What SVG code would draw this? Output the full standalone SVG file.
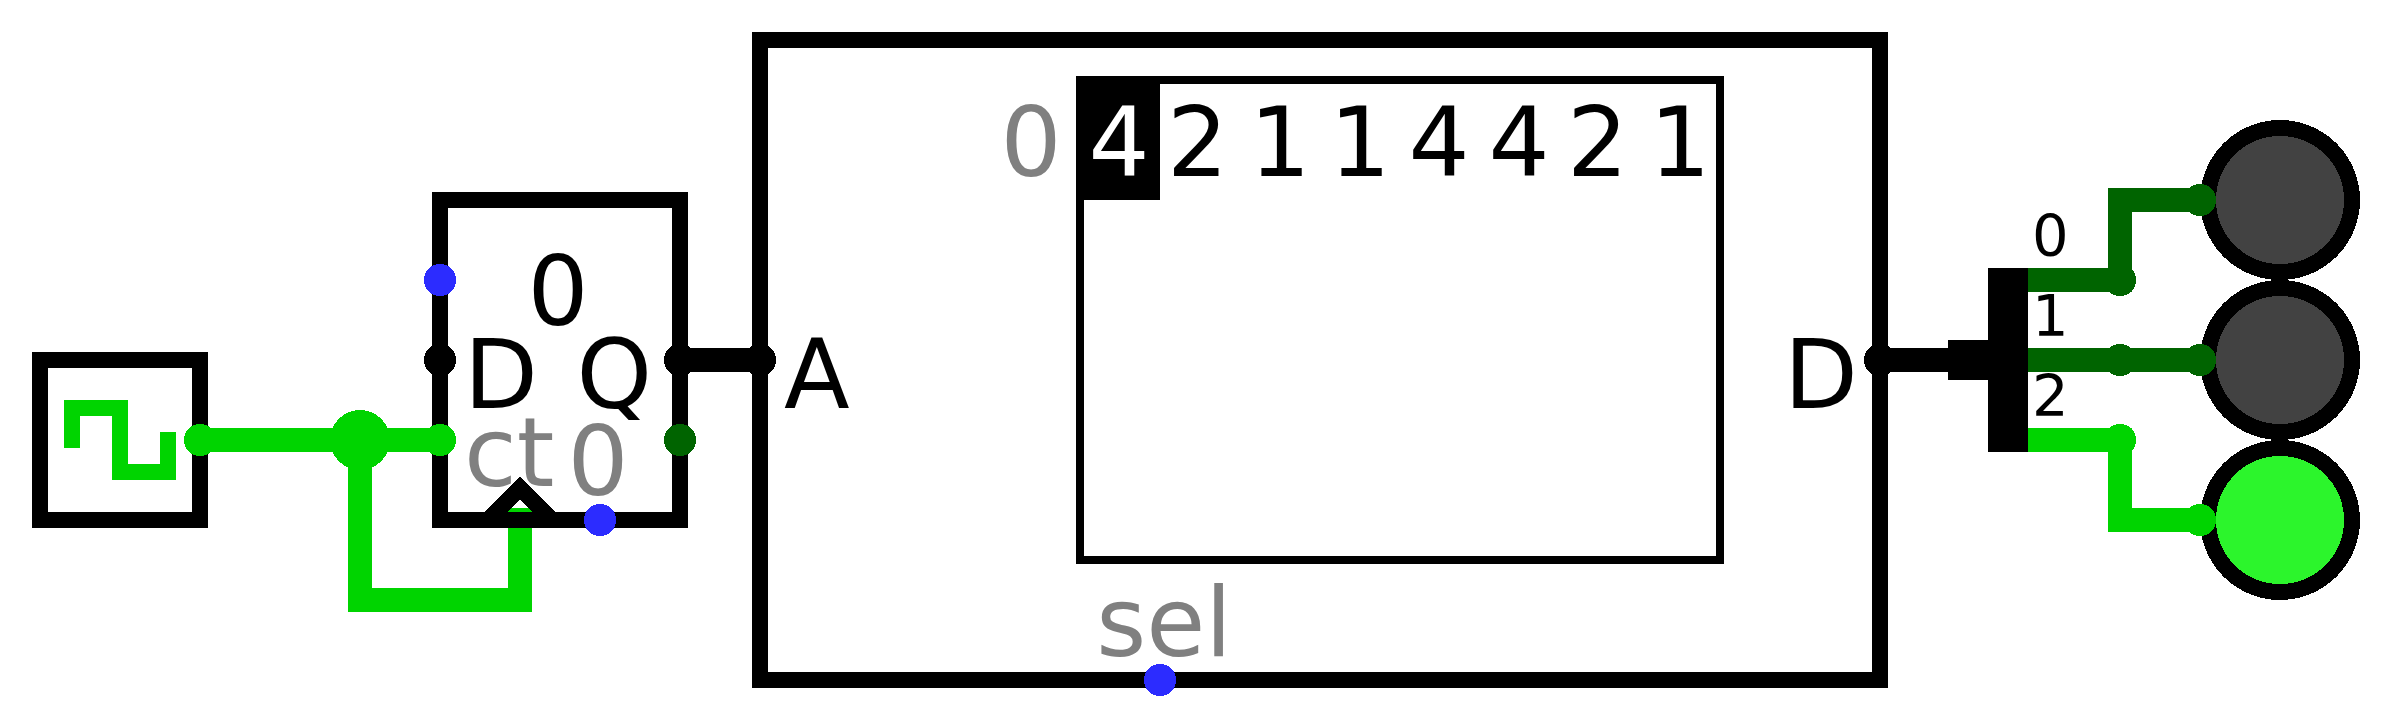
<svg xmlns="http://www.w3.org/2000/svg" width="2400" height="720" viewBox="0 0 2400 720">
<style>
text{font-family:"DejaVu Sans",sans-serif;font-size:96px;fill:#000}
.g{fill:#808080}
.s{font-size:57.6px}
.box{fill:none;stroke:#000;stroke-width:16}
.w{fill:none;stroke-width:24;stroke-linecap:butt}
.hi{stroke:#00d400}.lo{stroke:#006400}.bk{stroke:#000}
.pb{fill:#2c2cff}.pk{fill:#000}.ph{fill:#00d400}.pl{fill:#006400}
.led{stroke:#000;stroke-width:16}
circle,rect,path,polyline{shape-rendering:crispEdges}
</style>
<g id="connectors">
<path class="w hi" d="M200 440H440"/>
<path class="w hi" d="M360 440V600H520V508"/>
<path class="w bk" d="M680 360H760"/>
<path class="w bk" d="M1880 360H1960"/>
<path class="w lo" d="M2028 280H2120V200H2200"/>
<path class="w lo" d="M2028 360H2200"/>
<path class="w hi" d="M2028 440H2120V520H2200"/>
<circle class="ph" cx="360" cy="440" r="30"/>
</g>
<g id="clock">
<rect class="box" x="40" y="360" width="160" height="160"/>
<polyline points="72,448 72,408 120,408 120,472 168,472 168,432" fill="none" stroke="#00d400" stroke-width="16"/>
<circle class="ph" cx="200" cy="440" r="16"/>
</g>
<g id="dff">
<rect class="box" x="440" y="200" width="240" height="320"/>
<polyline points="488,520 520,488 552,520" fill="none" stroke="#000" stroke-width="16"/>
<text x="558" y="325" text-anchor="middle">0</text>
<text x="464" y="408">D</text>
<text x="652" y="408" text-anchor="end">Q</text>
<text class="g" x="464" y="486">ct</text>
<text class="g" x="598" y="495" text-anchor="middle">0</text>
<circle class="pb" cx="440" cy="280" r="16"/>
<circle class="pk" cx="440" cy="360" r="16"/>
<circle class="ph" cx="440" cy="440" r="16"/>
<circle class="pk" cx="680" cy="360" r="16"/>
<circle class="pl" cx="680" cy="440" r="16"/>
<circle class="pb" cx="600" cy="520" r="16"/>
</g>
<g id="memory">
<rect class="box" x="760" y="40" width="1120" height="640"/>
<rect x="1080" y="80" width="640" height="480" fill="none" stroke="#000" stroke-width="8"/>
<rect x="1080" y="80" width="80" height="120" fill="#000"/>
<text class="g" x="1031" y="176" text-anchor="middle">0</text>
<g text-anchor="middle">
<text x="1119" y="176" style="fill:#fff">4</text>
<text x="1197.5" y="176">2</text>
<text x="1280" y="176">1</text>
<text x="1360" y="176">1</text>
<text x="1439" y="176">4</text>
<text x="1519" y="176">4</text>
<text x="1597.5" y="176">2</text>
<text x="1680" y="176">1</text>
</g>
<text x="784" y="408">A</text>
<text x="1858" y="408" text-anchor="end">D</text>
<text class="g" x="1164" y="656" text-anchor="middle">sel</text>
<circle class="pk" cx="760" cy="360" r="16"/>
<circle class="pk" cx="1880" cy="360" r="16"/>
<circle class="pb" cx="1160" cy="680" r="16"/>
</g>
<g id="splitter">
<rect x="1948" y="340" width="40" height="40" fill="#000"/>
<rect x="1988" y="268" width="40" height="184" fill="#000"/>
<text class="s" x="2032" y="256">0</text>
<text class="s" x="2032" y="336">1</text>
<text class="s" x="2032" y="416">2</text>
<circle class="pl" cx="2120" cy="280" r="16"/>
<circle class="pl" cx="2120" cy="360" r="16"/>
<circle class="ph" cx="2120" cy="440" r="16"/>
</g>
<g id="led0"><circle class="led" cx="2280" cy="200" r="72" fill="#424242"/><circle class="pl" cx="2200" cy="200" r="16"/></g>
<g id="led1"><circle class="led" cx="2280" cy="360" r="72" fill="#424242"/><circle class="pl" cx="2200" cy="360" r="16"/></g>
<g id="led2"><circle class="led" cx="2280" cy="520" r="72" fill="#2cf52c"/><circle class="ph" cx="2200" cy="520" r="16"/></g>
</svg>
